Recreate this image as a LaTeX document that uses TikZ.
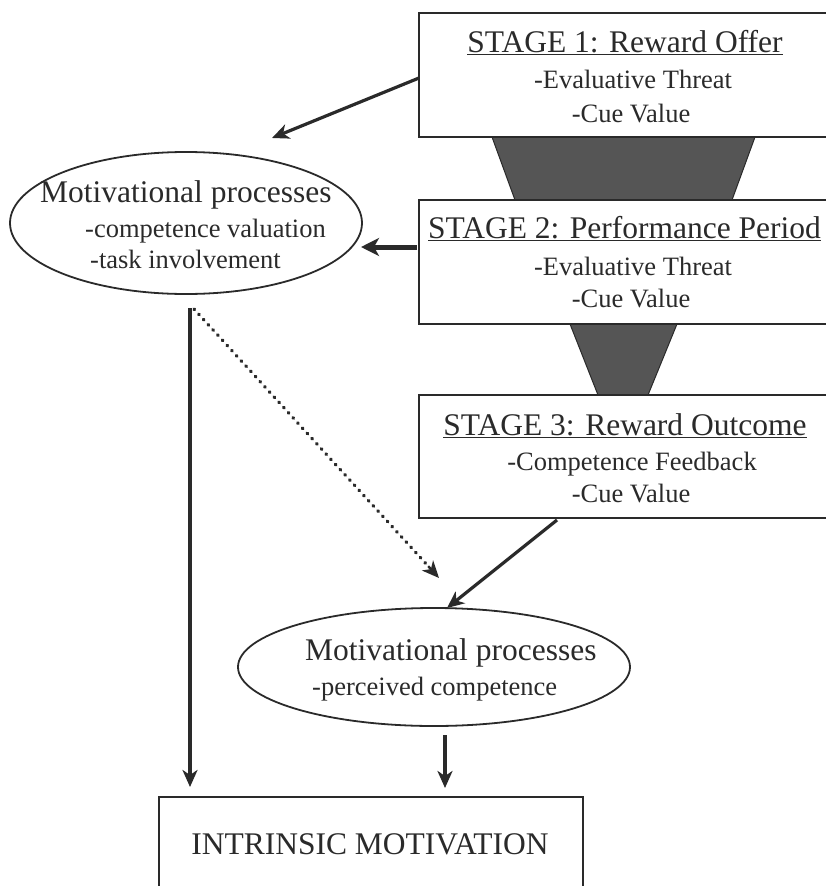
\documentclass[tikz,border=0pt]{standalone}
\usepackage{fontspec}
\setmainfont{Liberation Serif}
\usetikzlibrary{arrows.meta,shapes.geometric,calc}
\definecolor{ink}{HTML}{2A2A2A}
\definecolor{funnelgray}{HTML}{555555}
\begin{document}
\begin{tikzpicture}[x=1pt,y=-1pt,
  inkline/.style={draw=ink,line width=1.8pt},
  stagebox/.style={inkline,rectangle,minimum width=423pt,minimum height=124pt,inner sep=0pt},
  procell/.style={inkline,ellipse,inner sep=0pt},
  bigtext/.style={text=ink,inner sep=0pt,anchor=base,font=\fontsize{31.5}{36}\selectfont},
  smalltext/.style={text=ink,inner sep=0pt,anchor=base,font=\fontsize{26.5}{30}\selectfont},
  link/.style={draw=ink,line width=3.2pt,-{Stealth[length=17pt,width=15pt,inset=5pt]}},
  dotlink/.style={draw=ink,line width=3.4pt,line cap=round,dash pattern=on 0.8pt off 6.2pt},
  funnel/.style={fill=funnelgray,draw=ink,line width=1pt}]
\useasboundingbox (0,0) rectangle (826,886);
\clip (0,0) rectangle (826,886);

% funnels between the stages
\path[funnel] (492,137) -- (755,137) -- (732,200) -- (515,200) -- cycle;
\path[funnel] (570,324) -- (677,324) -- (648,395) -- (598,395) -- cycle;

% stage boxes
\node[stagebox,fill=white] (s1) at (630.5,75) {};
\node[stagebox,fill=white] (s2) at (630.5,262) {};
\node[stagebox,fill=white,minimum height=123pt] (s3) at (630.5,456.5) {};

\node[bigtext] (s1t) at (625,52) {\underline{STAGE 1: Reward Offer}};
\node[smalltext] (s1a) at (633,88) {-Evaluative Threat};
\node[smalltext] (s1b) at (631,122) {-Cue Value};

\node[bigtext] (s2t) at (624.5,238) {\underline{STAGE 2: Performance Period}};
\node[smalltext] (s2a) at (633,275) {-Evaluative Threat};
\node[smalltext] (s2b) at (631,307) {-Cue Value};

\node[bigtext] (s3t) at (625,435) {\underline{STAGE 3: Reward Outcome}};
\node[smalltext] (s3a) at (632,470) {-Competence Feedback};
\node[smalltext] (s3b) at (631,502) {-Cue Value};

% first motivational processes ellipse
\node[procell,minimum width=352pt,minimum height=142pt] (m1) at (186,223) {};
\node[bigtext,anchor=base west] (m1t) at (40,202) {Motivational processes};
\node[smalltext,anchor=base west] (m1a) at (85,237) {-competence valuation};
\node[smalltext,anchor=base west] (m1b) at (90,268) {-task involvement};

% second motivational processes ellipse
\node[procell,minimum width=392pt,minimum height=118pt] (m2) at (434,667) {};
\node[bigtext,anchor=base west] (m2t) at (305,660) {Motivational processes};
\node[smalltext,anchor=base west] (m2a) at (312,695) {-perceived competence};

% outcome box
\node[inkline,rectangle,minimum width=424pt,minimum height=130pt,inner sep=0pt,anchor=north west] (im) at (158,796) {};
\node[bigtext] (imt) at (370,854) {INTRINSIC MOTIVATION};

% connector end points
\coordinate (a1s) at (419,78);
\coordinate (a1e) at (272,138);
\coordinate (a2s) at (417,247);
\coordinate (a2e) at (361,247);
\coordinate (m1foot) at (190,308);
\coordinate (imleft) at (190,787);
\coordinate (dotfoot) at (194,309);
\coordinate (m2top) at (439,578);
\coordinate (s3foot) at (557,520);
\coordinate (m2in) at (447,608);
\coordinate (m2foot) at (445,735);
\coordinate (imright) at (445,788);
\coordinate (dothead) at ($(m2top)!16pt!(dotfoot)$);

% connectors
\draw[link] (a1s) -- (a1e);
\draw[link,line width=5pt,-{Stealth[length=18pt,width=18pt,inset=5pt]}] (a2s) -- (a2e);
\draw[link] (m1foot) -- (imleft);
\draw[dotlink] (dotfoot) -- (dothead);
\draw[draw=ink,line width=2.4pt,-{Stealth[length=17pt,width=15pt,inset=5pt]}] (dothead) -- (m2top);
\draw[link] (s3foot) -- (m2in);
\draw[link] (m2foot) -- (imright);
\end{tikzpicture}
\end{document}
